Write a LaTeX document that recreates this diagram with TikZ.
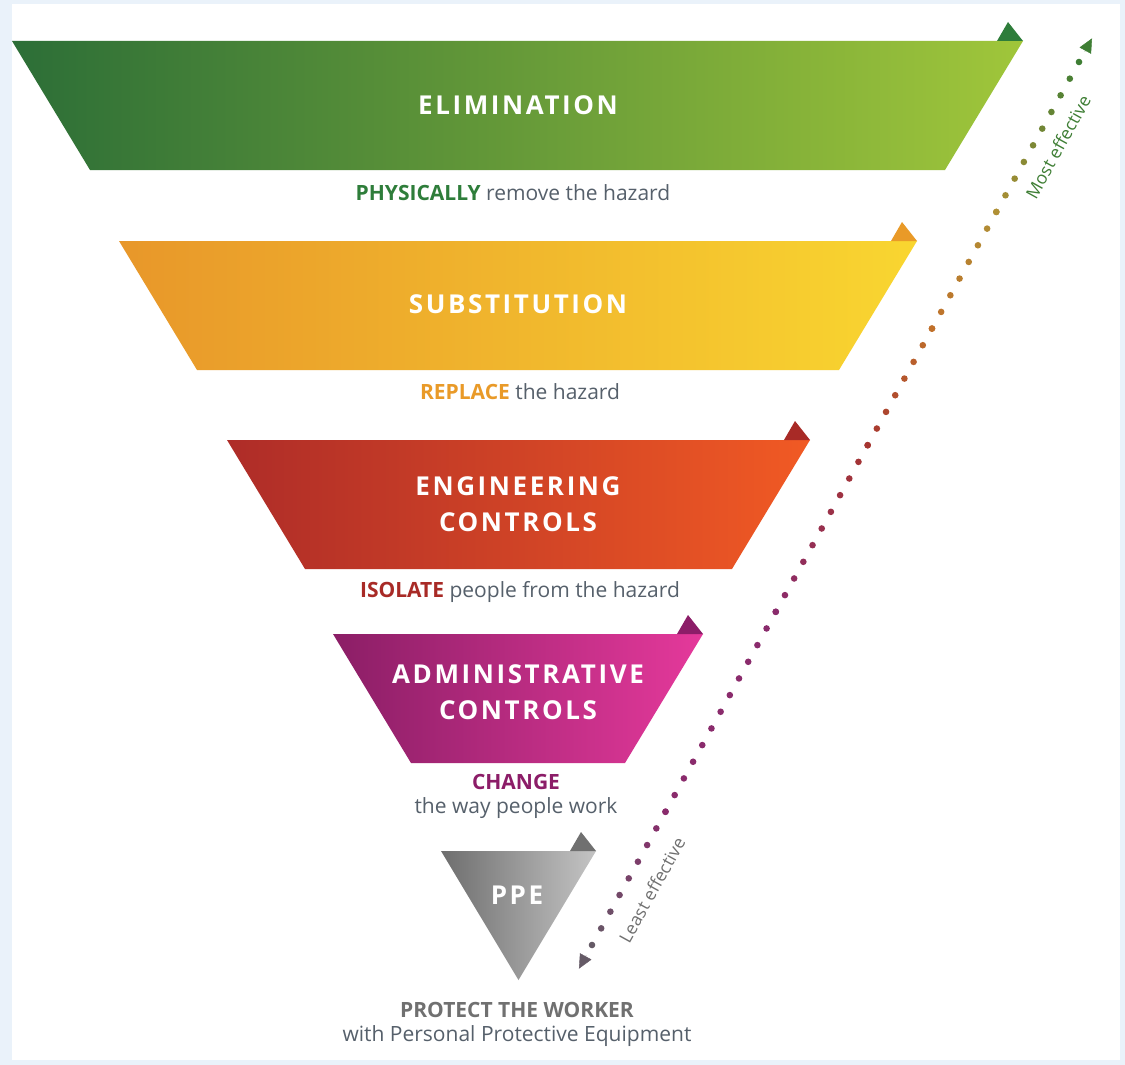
\documentclass[tikz,border=0pt]{standalone}
\usepackage{fontspec}
\setmainfont{Open Sans}
\newfontfamily\spacedfont[LetterSpace=10]{Open Sans}
\usetikzlibrary{calc,arrows.meta}

\definecolor{frame}{HTML}{EAF2FA}
\definecolor{slate}{HTML}{56606B}
\definecolor{elimL}{HTML}{2C6E37}
\definecolor{elimR}{HTML}{A0C63A}
\definecolor{elimD}{HTML}{2E7D3A}
\definecolor{subsL}{HTML}{E8972A}
\definecolor{subsR}{HTML}{F9D630}
\definecolor{subsD}{HTML}{E99A28}
\definecolor{engL}{HTML}{AE2C28}
\definecolor{engR}{HTML}{F15A24}
\definecolor{engD}{HTML}{A82A26}
\definecolor{admL}{HTML}{8B1E66}
\definecolor{admR}{HTML}{E5399B}
\definecolor{admD}{HTML}{8C1D68}
\definecolor{ppeL}{HTML}{6E6E6E}
\definecolor{ppeR}{HTML}{C4C4C4}
\definecolor{ppeD}{HTML}{707070}
\definecolor{dotA}{HTML}{655A66}
\definecolor{dotB}{HTML}{8A2B6C}
\definecolor{dotC}{HTML}{A63530}
\definecolor{dotD}{HTML}{C0702A}
\definecolor{dotE}{HTML}{B09035}
\definecolor{dotF}{HTML}{3E7E34}

\tikzset{
  tier/.style={font=\spacedfont\bfseries\fontsize{26}{36}\selectfont, text=white, align=center, inner sep=0pt},
  hint/.style={font=\fontsize{21}{24}\selectfont, text=slate, align=center, inner sep=0pt},
  side/.style={font=\fontsize{17.5}{19}\selectfont, rotate=61, inner sep=0pt},
}

\begin{document}
\begin{tikzpicture}[x=1pt, y=-1pt]
			\useasboundingbox (0,0) rectangle (1125,1065);
			\fill[frame] (0,0) rectangle (1125,1065);
			\fill[white] (12,4) rectangle (1120,1060);
			%\draw[help lines, color=gray!30, dashed] (0,0) grid[step=50] (1125,1065);
			\shade[left color=elimL, right color=elimR] (12,41) -- (1023,41) -- (945,170) -- (90,170) -- cycle;
			\fill[elimD] (997,41) -- (1008,22) -- (1023,41) -- cycle;
			\shade[left color=subsL, right color=subsR] (119,241) -- (917,241) -- (839,370) -- (197,370) -- cycle;
			\fill[subsD] (891,241) -- (902,222) -- (917,241) -- cycle;
			\shade[left color=engL, right color=engR] (227,440) -- (810,440) -- (732,569) -- (305,569) -- cycle;
			\fill[engD] (784,440) -- (795,421) -- (810,440) -- cycle;
			\shade[left color=admL, right color=admR] (333,634) -- (703,634) -- (625,763) -- (411,763) -- cycle;
			\fill[admD] (677,634) -- (688,615) -- (703,634) -- cycle;
			\shade[left color=ppeL, right color=ppeR] (441,851) -- (596,851) -- (518.5,980) -- cycle;
			\fill[ppeD] (570,851) -- (581,832) -- (596,851) -- cycle;

			\node[tier] (elim) at (518,105) {ELIMINATION};
			\node[tier] (subs) at (518,304) {SUBSTITUTION};
			\node[tier] (eng) at (518,504) {ENGINEERING\\CONTROLS};
			\node[tier] (adm) at (518,692) {ADMINISTRATIVE\\CONTROLS};
			\node[tier] (ppe) at (517,895) {PPE};

			\node[hint] (elimhint) at (513,193) {\textbf{\color{elimD}PHYSICALLY} remove the hazard};
			\node[hint] (subshint) at (520,392) {\textbf{\color{subsD}REPLACE} the hazard};
			\node[hint] (enghint) at (520,592) {\textbf{\color{engD}ISOLATE} people from the hazard};
			\node[hint] (admhint) at (516,796) {\textbf{\color{admD}CHANGE}\\the way people work};
			\node[hint] (ppehint) at (517,1024) {\textbf{\color{ppeD}PROTECT THE WORKER}\\with Personal Protective Equipment};

			% effectiveness scale
			\coordinate (lo) at (592,945);
			\coordinate (hi) at (1079,62);
			\foreach \a/\b/\ca/\cb in {0/8/dotA/dotB, 8/20/dotB/dotB, 20/30/dotB/dotC, 30/37/dotC/dotD, 37/44/dotD/dotE, 44/53/dotE/dotF}{
				\foreach \k in {\a,...,\b}{
					\pgfmathsetmacro\p{100*(\k-\a)/(\b-\a)}
					\fill[\cb!\p!\ca] ($(lo)!\k/53!(hi)$) circle (3.3);
				}
			}
			\draw[dotF, -{Triangle[length=14pt,width=13pt]}] ($(hi)!-12pt!(lo)$) -- ($(hi)!-27pt!(lo)$);
			\draw[dotA, -{Triangle[length=14pt,width=13pt]}] ($(lo)!-12pt!(hi)$) -- ($(lo)!-27pt!(hi)$);
			\node[side, text=dotF] (most) at (1058,147) {Most effective};
			\node[side, text=ppeD] (least) at (652,890) {Least effective};
\end{tikzpicture}
\end{document}
